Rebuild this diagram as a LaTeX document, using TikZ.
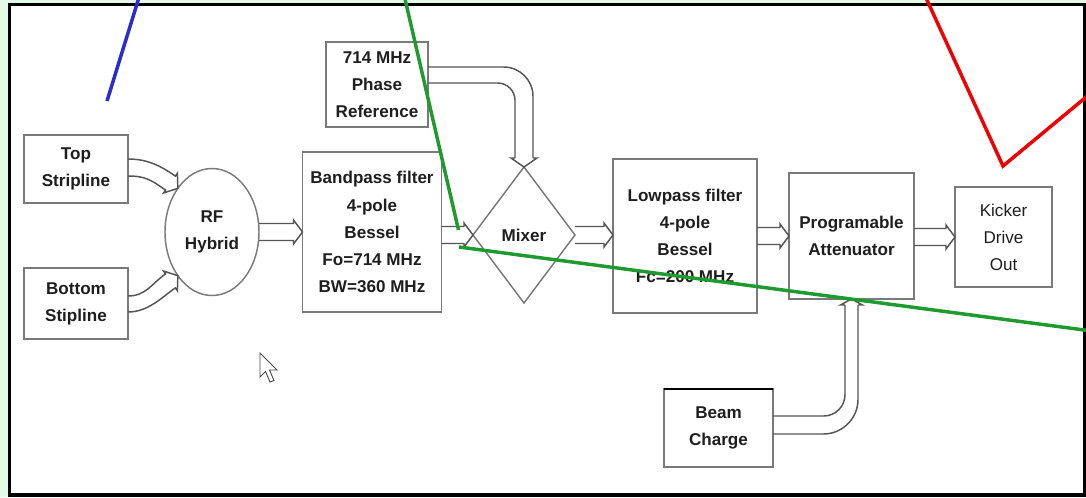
\documentclass[tikz,border=0pt]{standalone}
\usepackage{fontspec}
\setmainfont{Liberation Sans}
\usetikzlibrary{shapes.geometric,calc}
\definecolor{bg}{HTML}{E2FAE6}
\definecolor{boxline}{HTML}{7A7A7A}
\definecolor{arrline}{HTML}{555555}
\definecolor{txt}{HTML}{1E1E1E}
\definecolor{ovgreen}{HTML}{1F9A2E}
\definecolor{ovblue}{HTML}{2B2BD0}
\definecolor{ovred}{HTML}{F00000}
\newcommand\blkarrow[2]{%
  \draw[conn] ($(#1)+(0,8.5)$) -- ($(#2)+(-9,8.5)$) -- ($(#2)+(-9,12)$) -- (#2)
    -- ($(#2)+(-9,-12)$) -- ($(#2)+(-9,-8.5)$) -- ($(#1)+(0,-8.5)$);}
\begin{document}
\begin{tikzpicture}[x=0.75pt,y=0.75pt,
  blk/.style={draw=boxline, line width=1.1pt, fill=white, text=txt,
    font=\bfseries\fontsize{12.8}{20.3}\selectfont, align=center, inner sep=0pt, outer sep=0pt},
  sz/.style 2 args={minimum width=#1*0.75pt, minimum height=#2*0.75pt},
  conn/.style={draw=arrline, line width=1.1pt, line join=miter},
  ovl/.style={line width=2.6pt}]
\useasboundingbox (0,0) rectangle (1086,-497);
\fill[bg] (0,0) rectangle (1086,-497);
\filldraw[fill=white, draw=black, line width=2.6pt] (9.5,-4.5) rectangle (1084.5,-495);

% nodes
\node[blk, sz={104}{68}] (top) at (76,-169) {Top\\Stripline};
\node[blk, sz={104}{71}] (bot) at (76,-303.5) {Bottom\\Stipline};
\node[blk, ellipse, sz={94}{127}] (hyb) at (212,-232) {RF\\Hybrid};
\node[blk, sz={139}{160}] (bpf) at (372,-232) {Bandpass filter\\4-pole\\Bessel\\Fo=714 MHz\\BW=360 MHz};
\node[blk, sz={102}{85}] (ph) at (377,-84.5) {714 MHz\\Phase\\Reference};
\node[blk, diamond, sz={102}{136}] (mix) at (524,-235) {Mixer};
\node[blk, sz={144}{154}] (lpf) at (685,-236) {Lowpass filter\\4-pole\\Bessel\\Fc=200 MHz};
\node[blk, sz={125}{126}] (att) at (851.5,-236) {Programable\\Attenuator};
\node[blk, sz={97}{100}, font=\fontsize{12.8}{20.3}\selectfont] (kick) at (1003.5,-237) {Kicker\\Drive\\Out};
\node[blk, sz={109}{78}] (beam) at (718.5,-428) {Beam\\Charge};
\draw[black, line width=1.6pt] (beam.north west) -- (beam.north east);

% straight block arrows
\coordinate (a2s) at (bpf.east |- mix.west);
\coordinate (a3e) at (lpf.west |- mix.east);
\coordinate (a4s) at (lpf.east |- att.west);
\coordinate (a5s) at (att.east |- kick.west);
\blkarrow{hyb.east}{bpf.west}
\blkarrow{a2s}{mix.west}
\blkarrow{mix.east}{a3e}
\blkarrow{a4s}{att.west}
\blkarrow{a5s}{kick.west}

% phase reference -> mixer
\coordinate (S1) at ($(ph.east)+(0,17.5)$);
\coordinate (S2) at ($(ph.east)+(0,1.5)$);
\coordinate (M1) at ($(mix.north)+(9,9)$);
\coordinate (M2) at ($(mix.north)+(-9,9)$);
\draw[conn, rounded corners=22pt] (S1) -| (M1);
\draw[conn, rounded corners=13pt] (S2) -| (M2);
\draw[conn] (M1) -- ++(4,0) -- (mix.north) -- ($(M2)+(-4,0)$) -- (M2);

% beam charge -> attenuator
\coordinate (B1) at ($(beam.east)+(0,12)$);
\coordinate (B2) at ($(beam.east)+(0,-6)$);
\coordinate (C1) at ($(att.south)+(-6.5,-6)$);
\coordinate (C2) at ($(att.south)+(6.5,-6)$);
\draw[conn, rounded corners=16pt] (B1) -| (C1);
\draw[conn, rounded corners=26pt] (B2) -| (C2);
\draw[conn] (C1) -- ++(-4.5,0) -- (att.south) -- ($(C2)+(4.5,0)$) -- (C2);

% top stripline -> hybrid
\coordinate (T) at (hyb.128);
\coordinate (TUs) at ($(top.east)+(0,10)$);
\coordinate (TLs) at ($(top.east)+(0,-7)$);
\coordinate (TUe) at ($(T)+(-2.5,12.2)$);
\coordinate (TLe) at ($(T)+(-12.3,-1.8)$);
\draw[conn] (TUs) .. controls ($(TUs)+(20,0)$) and ($(TUe)+(-14,9.8)$) .. (TUe)
  -- ($(T)+(-0.5,15)$) -- (T) -- ($(T)+(-14.3,-4.6)$) -- (TLe)
  .. controls ($(TLe)+(-14,9.8)$) and ($(TLs)+(18,0)$) .. (TLs);

% bottom stipline -> hybrid
\coordinate (H) at (hyb.232);
\coordinate (HUs) at ($(bot.east)+(0,7.5)$);
\coordinate (HLs) at ($(bot.east)+(0,-8.5)$);
\coordinate (HUe) at ($(H)+(-12.3,1.8)$);
\coordinate (HLe) at ($(H)+(-2.5,-12.2)$);
\draw[conn] (HUs) .. controls ($(HUs)+(18,0)$) and ($(HUe)+(-14,-9.8)$) .. (HUe)
  -- ($(H)+(-14.3,4.6)$) -- (H) -- ($(H)+(-0.5,-15)$) -- (HLe)
  .. controls ($(HLe)+(-14,-9.8)$) and ($(HLs)+(20,0)$) .. (HLs);

% mouse cursor
\filldraw[fill=white, draw=black!70, line width=0.7pt, line join=miter]
  (260,-353) -- (260,-377) -- (265.5,-371.5) -- (270,-382) -- (274,-380.5)
  -- (269.5,-370) -- (277,-370) -- cycle;

% overlay lines
\draw[ovl, ovblue] (138.5,1) -- (107,-101);
\draw[ovl, ovgreen] (405,1) -- (458.5,-230);
\draw[ovl, ovgreen] (459,-247) -- (1088,-330.5);
\draw[ovl, ovred, line join=miter] (926.5,1) -- (1003,-166) -- (1088,-95.5);
\end{tikzpicture}
\end{document}
